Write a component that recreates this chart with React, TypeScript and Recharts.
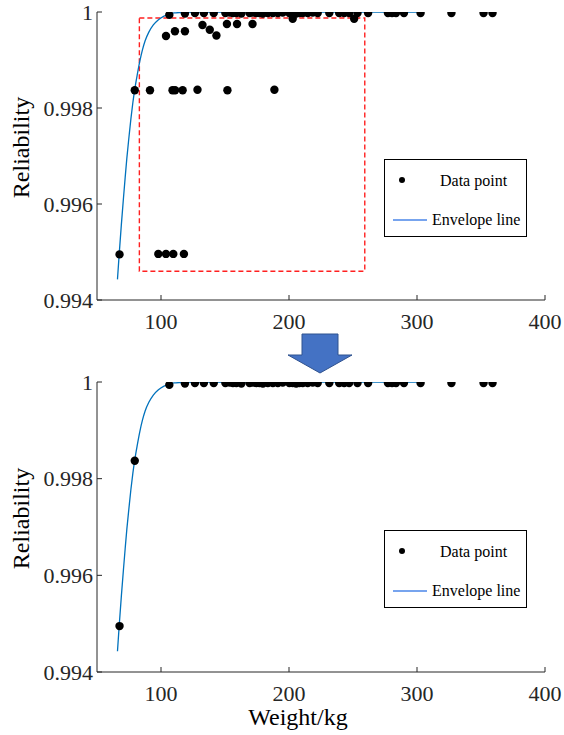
import React from 'react'
import { ComposedChart, Line, Scatter, XAxis, YAxis, ReferenceArea } from 'recharts'

// envelope line
const envX = [66, 67.3, 69, 70.7, 72, 73.3, 75, 76.5, 78, 79.5, 81.5, 83.5, 85.5, 87.6, 90.5, 94, 98, 102, 106, 110, 116, 125, 150, 200, 250, 300]
const envY = [0.99443, 0.99494, 0.99556, 0.99613, 0.99655, 0.99695, 0.9974, 0.99778, 0.99811, 0.99839, 0.9987, 0.99898, 0.99921, 0.9994, 0.99958, 0.99973, 0.99984, 0.99991, 0.99995, 0.99998, 0.99999, 1, 1, 1, 1, 1]

// points that sit on the envelope (kept in both panels)
const keptX = [67.6, 79.5, 106.5, 118.7, 126.5, 133.5, 141.2, 150.3, 153.7, 156.2, 158.9, 162.8, 169.2, 171.8, 174.4, 177, 179.6, 183.5, 187.4, 191.3, 195.1, 200.3, 202.9, 205.6, 208.1, 210.7, 214.6, 218.5, 222.4, 231.5, 239.2, 243.1, 247, 253.5, 261.8, 277.3, 280.5, 283.6, 289.8, 302.8, 326.9, 352, 359]
const keptY = [0.99495, 0.99837, 0.99994, 0.99997, 0.99998, 0.99998, 0.99998, 0.99998, 0.99999, 0.99998, 0.99998, 0.99997, 0.99998, 0.99999, 0.99998, 0.99998, 0.99997, 0.99998, 0.99998, 0.99998, 0.99999, 0.99998, 0.99998, 0.99997, 0.99998, 0.99998, 0.99998, 0.99999, 0.99998, 0.99998, 0.99998, 0.99998, 0.99998, 0.99998, 0.99998, 0.99998, 0.99998, 0.99998, 0.99998, 0.99998, 0.99998, 0.99998, 0.99998]

// points below the envelope (only in the upper panel)
const droppedX = [91.4, 109, 111, 116.9, 128.5, 151.9, 188.6, 97.9, 103.9, 109.6, 117.9, 103.9, 110.9, 118.7, 132.4, 138.1, 143.3, 151.5, 159.4, 171.5, 202.9, 250.9]
const droppedY = [0.99837, 0.99837, 0.99837, 0.99837, 0.99838, 0.99837, 0.99838, 0.99496, 0.99496, 0.99496, 0.99496, 0.9995, 0.9996, 0.9996, 0.99973, 0.99963, 0.99951, 0.99975, 0.99975, 0.99975, 0.99986, 0.99986]

const xTicks = [100, 200, 300, 400]
const yTicks = [0.994, 0.996, 0.998, 1]
const xDomain = [50, 400]
const yDomain = [0.994, 1]

// red dashed selection box (data units)
const boxX = [83.1, 259.2]
const boxY = [0.9946, 0.999875]

const envelope = envX.map((x, i) => ({ x, y: envY[i] }))
const kept = keptX.map((x, i) => ({ x, y: keptY[i] }))
const dropped = droppedX.map((x, i) => ({ x, y: droppedY[i] }))

const serif = '"Times New Roman", "Liberation Serif", serif'
const axisColor = '#262626'

const fmtY = (v: number) => (v === 1 ? '1' : v.toFixed(3))

const XTick = ({ x, y, payload }: any) => (
  <g>
    <line x1={x} x2={x} y1={y} y2={y - 5} stroke={axisColor} />
    <text x={x} y={y + 29} textAnchor="middle" fontFamily={serif} fontSize={22} fill={axisColor}>
      {payload.value}
    </text>
  </g>
)

const YTick = ({ x, y, payload }: any) => (
  <g>
    <line x1={x} x2={x + 5} y1={y} y2={y} stroke={axisColor} />
    <text x={x - 4} y={y + 7.8} textAnchor="end" fontFamily={serif} fontSize={22} fill={axisColor}>
      {fmtY(payload.value)}
    </text>
  </g>
)

const TopTick = ({ x, y }: any) => <line x1={x} x2={x} y1={y} y2={y + 5} stroke={axisColor} />
const RightTick = ({ x, y }: any) => <line x1={x} x2={x - 5} y1={y} y2={y} stroke={axisColor} />

const yLabel = (props: any) => {
  const vb = props.viewBox
  const cy = vb.y + vb.height / 2 - 8.5
  return (
    <text x={29} y={cy} transform={`rotate(-90 29 ${cy})`} textAnchor="middle" fontFamily={serif} fontSize={24} fill="#000">
      Reliability
    </text>
  )
}

const xLabel = (props: any) => {
  const vb = props.viewBox
  return (
    <text x={vb.x + vb.width / 2 - 23} y={vb.y + 53} textAnchor="middle" fontFamily={serif} fontSize={24} fill="#000">
      Weight/kg
    </text>
  )
}

const LegendBox = ({ top }: { top: number }) => (
  <svg width={144} height={79} style={{ position: 'absolute', left: 384, top, display: 'block' }}>
    <rect x={0.5} y={0.5} width={142} height={77} fill="#fff" stroke="#000" />
    <circle cx={18} cy={21} r={3} fill="#000" />
    <text x={56} y={26.5} fontFamily={serif} fontSize={16} fill="#000">Data point</text>
    <line x1={9} x2={43} y1={61} y2={61} stroke="#4a86e8" strokeWidth={1.3} />
    <text x={48} y={66} fontFamily={serif} fontSize={16} fill="#000">Envelope line</text>
  </svg>
)

const dot = (p: any) => <circle cx={p.cx} cy={p.cy} r={4.2} fill="#000" />

function Panel({ points, showBox, withXLabel, height }: { points: any[]; showBox: boolean; withXLabel: boolean; height: number }) {
  return (
    <ComposedChart width={564} height={height} margin={{ top: 12, right: 19, bottom: 0, left: 0 }}>
      <XAxis
        xAxisId="b"
        dataKey="x"
        type="number"
        domain={xDomain}
        ticks={xTicks}
        allowDataOverflow
        height={withXLabel ? 63 : 40}
        stroke={axisColor}
        tickLine={false}
        tickSize={0}
        tickMargin={0}
        tick={<XTick />}
        label={withXLabel ? xLabel : undefined}
      />
      <XAxis
        xAxisId="t"
        dataKey="x"
        type="number"
        orientation="top"
        domain={xDomain}
        ticks={xTicks}
        allowDataOverflow
        height={0}
        stroke={axisColor}
        tickLine={false}
        tickSize={0}
        tickMargin={0}
        tick={<TopTick />}
      />
      <YAxis
        yAxisId="l"
        type="number"
        domain={yDomain}
        ticks={yTicks}
        allowDataOverflow
        width={97}
        stroke={axisColor}
        tickLine={false}
        tickSize={0}
        tickMargin={0}
        tick={<YTick />}
        label={yLabel}
      />
      <YAxis
        yAxisId="r"
        type="number"
        orientation="right"
        domain={yDomain}
        ticks={yTicks}
        allowDataOverflow
        width={0}
        stroke={axisColor}
        tickLine={false}
        tickSize={0}
        tickMargin={0}
        tick={<RightTick />}
      />
      {showBox && (
        <ReferenceArea
          xAxisId="b"
          yAxisId="l"
          x1={boxX[0]}
          x2={boxX[1]}
          y1={boxY[0]}
          y2={boxY[1]}
          fill="none"
          fillOpacity={0}
          stroke="#ff2020"
          strokeWidth={1.4}
          strokeDasharray="5 3"
          ifOverflow="visible"
        />
      )}
      {/* invisible copy so the mirrored top/right axes get a domain */}
      <Line
        xAxisId="t"
        yAxisId="r"
        data={envelope}
        dataKey="y"
        stroke="none"
        dot={false}
        activeDot={false}
        isAnimationActive={false}
      />
      <Line
        xAxisId="b"
        yAxisId="l"
        data={envelope}
        dataKey="y"
        type="monotone"
        stroke="#0072BD"
        strokeWidth={1.3}
        dot={false}
        activeDot={false}
        isAnimationActive={false}
      />
      <Scatter xAxisId="b" yAxisId="l" data={points} dataKey="y" shape={dot} isAnimationActive={false} />
    </ComposedChart>
  )
}

export default function App() {
  return (
    <div style={{ position: 'absolute', left: 0, top: 0, width: 564, height: 735, background: '#fff' }}>
      <div style={{ position: 'absolute', left: 0, top: 0 }}>
        <Panel points={[...kept, ...dropped]} showBox withXLabel={false} height={340} />
      </div>
      <LegendBox top={159} />
      <svg width={564} height={50} style={{ position: 'absolute', left: 0, top: 328 }}>
        <polygon
          points="302,6 338,6 338,27 352,27 320,45 288,27 302,27"
          fill="#4472C4"
          stroke="#2F528F"
          strokeWidth={1}
        />
      </svg>
      <div style={{ position: 'absolute', left: 0, top: 370 }}>
        <Panel points={kept} showBox={false} withXLabel height={365} />
      </div>
      <LegendBox top={530} />
    </div>
  )
}
